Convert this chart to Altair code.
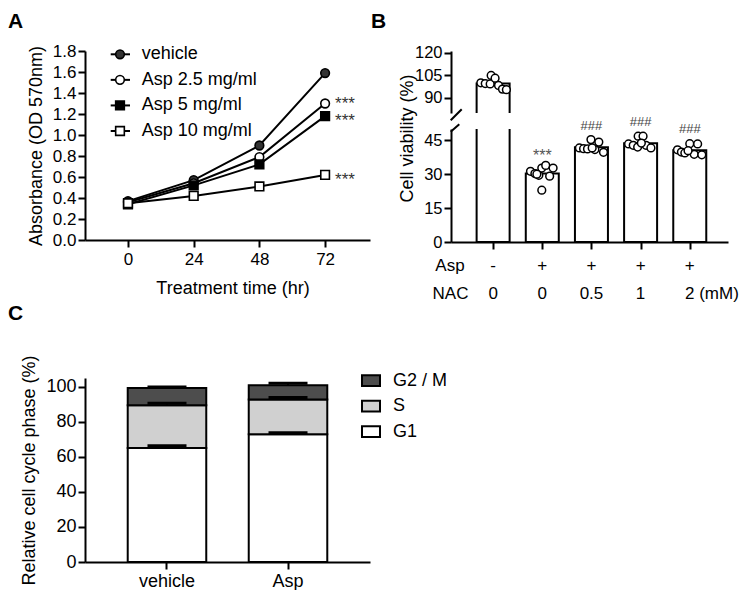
import altair as alt
import pandas as pd

FONT = "Liberation Sans"

# ---------------- Panel A data ----------------
hours = [0, 24, 48, 72]
series_names = ["vehicle", "Asp 2.5 mg/ml", "Asp 5 mg/ml", "Asp 10 mg/ml"]
od_vehicle = [0.37, 0.57, 0.90, 1.59]
od_asp_2_5 = [0.36, 0.54, 0.79, 1.30]
od_asp_5 = [0.34, 0.52, 0.72, 1.18]
od_asp_10 = [0.35, 0.42, 0.51, 0.62]
a_sig = ["", "***", "***", "***"]
a_y_ticks = [0.0, 0.2, 0.4, 0.6, 0.8, 1.0, 1.2, 1.4, 1.6, 1.8]

# ---------------- Panel B data ----------------
b_asp = ["-", "+", "+", "+", "+"]
b_nac = ["0", "0", "0.5", "1", "2"]
b_sig = ["", "***", "###", "###", "###"]
b_vals_0 = [100.0, 99.5, 99.2, 104.8, 103.0, 98.2, 95.8, 95.4]
b_jit_0 = [-0.25, -0.16, -0.06, -0.04, 0.04, 0.11, 0.19, 0.27]
b_vals_1 = [31.3, 30.3, 29.5, 32.7, 33.9, 29.1, 32.7, 22.9, 30.0]
b_jit_1 = [-0.24, -0.15, -0.07, -0.01, 0.07, 0.15, 0.22, -0.01, -0.11]
b_vals_2 = [41.6, 41.3, 41.2, 45.3, 40.9, 44.2, 39.7, 41.6]
b_jit_2 = [-0.245, -0.16, -0.08, -0.01, 0.07, 0.15, 0.245, 0.015]
b_vals_3 = [43.4, 42.8, 42.0, 46.8, 46.8, 42.8, 41.6, 43.8]
b_jit_3 = [-0.245, -0.15, -0.06, -0.05, 0.05, 0.11, 0.21, 0.015]
b_vals_4 = [40.8, 39.8, 39.4, 43.5, 38.8, 43.4, 38.6, 40.4]
b_jit_4 = [-0.25, -0.17, -0.10, 0.0, 0.09, 0.16, 0.245, -0.035]

# ---------------- Panel C data ----------------
c_conditions = ["vehicle", "Asp"]
c_phases = ["G1", "S", "G2 / M"]
c_g1 = [65.1, 72.9]
c_s = [24.4, 19.9]
c_g2m = [9.8, 8.0]
c_g1_err = [1.3, 0.9]
c_s_err = [1.1, 1.1]
c_g2m_err = [0.5, 1.2]

one = pd.DataFrame({"k": [0]})

# ================= Panel A =================
a_series_vals = [od_vehicle, od_asp_2_5, od_asp_5, od_asp_10]
a_df = pd.DataFrame([
    {"series": s, "hour": h, "od": v}
    for s, vals in zip(series_names, a_series_vals)
    for h, v in zip(hours, vals)
])
a_sig_df = pd.DataFrame([
    {"series": s, "hour": hours[-1], "od": vals[-1], "sig": g}
    for s, vals, g in zip(series_names, a_series_vals, a_sig) if g
])
a_leg_df = pd.DataFrame({"series": series_names, "row": list(range(len(series_names)))})

shape_scale = alt.Scale(domain=series_names, range=["circle", "circle", "square", "square"])
fill_scale = alt.Scale(domain=series_names, range=["#333333", "#ffffff", "#000000", "#ffffff"])

a_x = alt.X("hour:Q", scale=alt.Scale(domain=[-15.7, 88.4], nice=False, zero=False),
            axis=alt.Axis(values=hours, title="Treatment time (hr)", labelFontSize=17,
                          labelPadding=4, titleX=147.5, titleY=53, titleBaseline="alphabetic"))
a_y = alt.Y("od:Q", scale=alt.Scale(domain=[0, 1.8], nice=False),
            axis=alt.Axis(values=a_y_ticks, format=".1f", title="Absorbance (OD 570nm)",
                          labelFontSize=17, labelPadding=2, titleX=-48.5, titleY=94.5,
                          titleBaseline="middle"))

a_line = alt.Chart(a_df).mark_line(color="black", strokeWidth=2).encode(
    x=a_x, y=a_y, detail="series:N")
a_pts = alt.Chart(a_df).mark_point(size=75, filled=True, opacity=1, stroke="black",
                                   strokeWidth=1.6).encode(
    x=a_x, y=a_y,
    shape=alt.Shape("series:N", scale=shape_scale, legend=None),
    fill=alt.Fill("series:N", scale=fill_scale, legend=None))
a_star_hi = alt.Chart(a_sig_df[a_sig_df.series == series_names[1]]).mark_text(
    align="left", baseline="alphabetic", dx=10, dy=5, fontSize=17, color="#333333").encode(
    x=a_x, y=a_y, text="sig:N")
a_star_lo = alt.Chart(a_sig_df[a_sig_df.series != series_names[1]]).mark_text(
    align="left", baseline="alphabetic", dx=10, dy=10, fontSize=17, color="#333333").encode(
    x=a_x, y=a_y, text="sig:N")
a_tag = alt.Chart(pd.DataFrame({"t": ["A"]})).mark_text(
    align="left", baseline="top", fontSize=21, fontWeight="bold", color="black").encode(
    x=alt.value(-77), y=alt.value(-40), text="t:N")

a_ly = alt.Y("row:Q", scale=alt.Scale(domain=[0, 3], range=[3.3, 80]), axis=None)
a_leg_line = alt.Chart(a_leg_df).mark_rule(color="black", strokeWidth=2).encode(
    x=alt.value(25.7), x2=alt.value(45), y=a_ly)
a_leg_pts = alt.Chart(a_leg_df).mark_point(size=75, filled=True, opacity=1, stroke="black",
                                           strokeWidth=1.6).encode(
    x=alt.value(35), y=a_ly,
    shape=alt.Shape("series:N", scale=shape_scale, legend=None),
    fill=alt.Fill("series:N", scale=fill_scale, legend=None))
a_leg_txt = alt.Chart(a_leg_df).mark_text(align="left", baseline="middle", fontSize=18,
                                          color="black").encode(
    x=alt.value(56.7), y=a_ly, text="series:N")

chart_a = alt.layer(
    alt.layer(a_line, a_pts, a_star_hi, a_star_lo, a_tag),
    alt.layer(a_leg_line, a_leg_pts, a_leg_txt)
).resolve_scale(y="independent").properties(width=285, height=189)

# ================= Panel B =================
b_vals = [b_vals_0, b_vals_1, b_vals_2, b_vals_3, b_vals_4]
b_jits = [b_jit_0, b_jit_1, b_jit_2, b_jit_3, b_jit_4]
b_point_df = pd.DataFrame([
    {"g": i, "x": i + j, "v": v}
    for i, (vals, jits) in enumerate(zip(b_vals, b_jits))
    for v, j in zip(vals, jits)
])
b_bar_df = pd.DataFrame({
    "x": list(range(5)),
    "v": [sum(v) / len(v) for v in b_vals],
    "asp": b_asp, "nac": b_nac, "sig": b_sig,
})
xb_scale = alt.Scale(domain=[-0.755, 4.676], nice=False, zero=False)

# upper part (broken axis)
bu_x = alt.X("x:Q", scale=xb_scale, axis=None)
bu_y = alt.Y("v:Q", scale=alt.Scale(domain=[80, 121], nice=False, zero=False),
             axis=alt.Axis(values=[90, 105, 120], title=None, labelFontSize=16.5, labelPadding=2))
bu_bar = alt.Chart(b_bar_df[b_bar_df.v > 80]).mark_bar(
    size=33, fill="white", stroke="black", strokeWidth=2, clip=True).encode(
    x=bu_x, y=bu_y, y2=alt.datum(0))
bu_pts = alt.Chart(b_point_df[b_point_df.v > 80]).mark_point(
    shape="circle", size=60, filled=True, fill="white", stroke="black", strokeWidth=1.5,
    opacity=1).encode(x=bu_x, y=bu_y)
bu_brk = alt.Chart(one).mark_rule(color="black", strokeWidth=2).encode(
    x=alt.value(-0.3), x2=alt.value(10.7), y=alt.value(69.3), y2=alt.value(58.3))
bu_tag = alt.Chart(pd.DataFrame({"t": ["B"]})).mark_text(
    align="left", baseline="top", fontSize=21, fontWeight="bold", color="black").encode(
    x=alt.value(-80), y=alt.value(-40), text="t:N")
b_upper = alt.layer(bu_bar, bu_pts, bu_brk, bu_tag).properties(width=277, height=62)

# lower part
bl_x = alt.X("x:Q", scale=xb_scale,
             axis=alt.Axis(values=[0, 1, 2, 3, 4], labels=False, title=None, tickSize=7))
bl_y = alt.Y("v:Q", scale=alt.Scale(domain=[0, 50], nice=False),
             axis=alt.Axis(values=[0, 15, 30, 45], title="Cell viability (%)", labelFontSize=16.5,
                           labelPadding=2, titleX=-44, titleY=9, titleBaseline="middle"))
bl_bar = alt.Chart(b_bar_df).mark_bar(
    size=33, fill="white", stroke="black", strokeWidth=2, clip=True).encode(
    x=bl_x, y=bl_y, y2=alt.datum(0))
bl_pts = alt.Chart(b_point_df[b_point_df.v <= 50]).mark_point(
    shape="circle", size=60, filled=True, fill="white", stroke="black", strokeWidth=1.5,
    opacity=1).encode(x=bl_x, y=bl_y)
bl_star = alt.Chart(b_bar_df[b_bar_df.sig == "***"]).mark_text(
    baseline="alphabetic", dy=-13, fontSize=16, color="#555555").encode(
    x=bl_x, y=bl_y, text="sig:N")
bl_hash = alt.Chart(b_bar_df[b_bar_df.sig == "###"]).mark_text(
    baseline="alphabetic", dy=-17, fontSize=13, color="#444444").encode(
    x=bl_x, y=bl_y, text="sig:N")
bl_asp = alt.Chart(b_bar_df).mark_text(baseline="alphabetic", fontSize=17, color="black").encode(
    x=bl_x, y=alt.value(142), text="asp:N")
bl_nac = alt.Chart(b_bar_df).mark_text(baseline="alphabetic", fontSize=17, color="black").encode(
    x=bl_x, y=alt.value(170), text="nac:N")
bl_h1 = alt.Chart(pd.DataFrame({"t": ["Asp"]})).mark_text(
    baseline="alphabetic", fontSize=17, color="black").encode(
    x=alt.value(-1), y=alt.value(142), text="t:N")
bl_h2 = alt.Chart(pd.DataFrame({"t": ["NAC"]})).mark_text(
    baseline="alphabetic", fontSize=17, color="black").encode(
    x=alt.value(-0.5), y=alt.value(170), text="t:N")
bl_h3 = alt.Chart(pd.DataFrame({"t": ["(mM)"]})).mark_text(
    baseline="alphabetic", fontSize=17, color="black").encode(
    x=alt.value(268), y=alt.value(170), text="t:N")
bl_brk = alt.Chart(one).mark_rule(color="black", strokeWidth=2).encode(
    x=alt.value(-0.3), x2=alt.value(8.3), y=alt.value(2.7), y2=alt.value(-4.7))
b_lower = alt.layer(bl_bar, bl_pts, bl_star, bl_hash, bl_asp, bl_nac, bl_h1, bl_h2, bl_h3,
                    bl_brk).properties(width=277, height=113)

chart_b = alt.vconcat(b_upper, b_lower, spacing=16, bounds="flush")

# ================= Panel C =================
c_rows = []
for i, cond in enumerate(c_conditions):
    base = 0.0
    for ph, vals, errs in zip(c_phases, [c_g1, c_s, c_g2m], [c_g1_err, c_s_err, c_g2m_err]):
        top = base + vals[i]
        c_rows.append({"condition": cond, "phase": ph, "y0": base, "y1": top,
                       "cap": top + errs[i]})
        base = top
c_df = pd.DataFrame(c_rows)
c_leg_order = ["G2 / M", "S", "G1"]
c_leg_df = pd.DataFrame({"phase": c_leg_order, "row": [0, 1, 2]})

c_xscale = alt.Scale(paddingInner=0.351, paddingOuter=0.353)
c_x = alt.X("condition:N", sort=c_conditions, scale=c_xscale,
            axis=alt.Axis(title=None, labelAngle=0, labelFontSize=18, labelPadding=3, tickSize=7))
c_yscale = alt.Scale(domain=[0, 105], nice=False)
c_yaxis = alt.Axis(values=[0, 20, 40, 60, 80, 100], title="Relative cell cycle phase (%)",
                   labelFontSize=18, labelPadding=2, titleX=-56, titleY=92,
                   titleBaseline="middle")
c_color = alt.Color("phase:N", scale=alt.Scale(domain=c_leg_order,
                                               range=["#4d4d4d", "#d0d0d0", "#ffffff"]),
                    legend=None)

c_bar = alt.Chart(c_df).mark_bar(stroke="black", strokeWidth=2, opacity=1).encode(
    x=c_x, y=alt.Y("y1:Q", scale=c_yscale, axis=c_yaxis), y2="y0:Q", color=c_color)
c_err = alt.Chart(c_df).mark_rule(color="black", strokeWidth=2, opacity=1).encode(
    x=c_x, y=alt.Y("y1:Q", scale=c_yscale, axis=c_yaxis), y2="cap:Q")
c_cap = alt.Chart(c_df).mark_tick(color="black", thickness=3, size=39, opacity=1).encode(
    x=c_x, y=alt.Y("cap:Q", scale=c_yscale, axis=c_yaxis))
c_tag = alt.Chart(pd.DataFrame({"t": ["C"]})).mark_text(
    align="left", baseline="top", fontSize=21, fontWeight="bold", color="black").encode(
    x=alt.value(-77), y=alt.value(-74.6), text="t:N")

c_ly = alt.Y("row:Q", scale=alt.Scale(domain=[0, 2], range=[2.7, 53.7]), axis=None)
c_leg_sym = alt.Chart(c_leg_df).mark_point(
    shape="M-1,-0.6H1V0.6H-1Z", size=324, filled=True, stroke="black", strokeWidth=2,
    opacity=1).encode(x=alt.value(286), y=c_ly, color=c_color)
c_leg_txt = alt.Chart(c_leg_df).mark_text(align="left", baseline="middle", fontSize=18,
                                          color="black").encode(
    x=alt.value(308), y=c_ly, text="phase:N")

chart_c = alt.layer(
    alt.layer(c_bar, c_err, c_cap, c_tag),
    alt.layer(c_leg_sym, c_leg_txt)
).resolve_scale(y="independent").properties(width=285, height=184)

# ================= Compose =================
top_row = alt.hconcat(chart_a, chart_b, spacing=81, bounds="flush")
chart = alt.vconcat(top_row, chart_c, spacing=327, bounds="flush").resolve_scale(
    color="independent", fill="independent", shape="independent"
).properties(
    padding={"top": 3, "left": 0, "right": 0, "bottom": 0}
).configure_view(stroke=None).configure_axis(
    domainColor="black", domainWidth=2, tickColor="black", tickWidth=2, tickSize=7,
    labelColor="black", labelFont=FONT, labelFontSize=17, titleFont=FONT, titleFontSize=18,
    titleFontWeight="normal", titleColor="black", grid=False, labelOverlap=False
).configure_text(font=FONT)

chart.save("out.html", embed_options={"renderer": "svg", "actions": False})
